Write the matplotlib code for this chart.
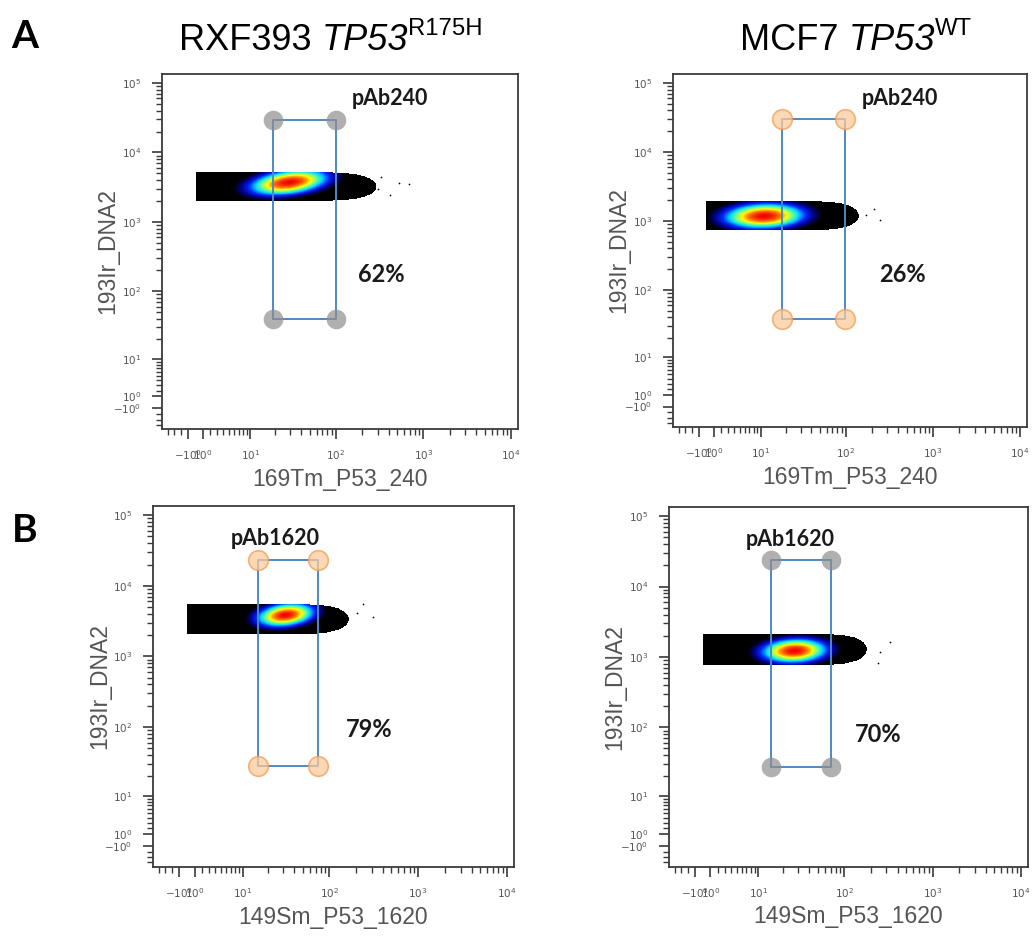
import numpy as np
import matplotlib
matplotlib.use("Agg")
import matplotlib.pyplot as plt
from matplotlib import font_manager
from matplotlib.colors import LinearSegmentedColormap
from matplotlib.ticker import FixedLocator, FixedFormatter

W, H, DPI = 1034, 936, 100

# ---------------- data ----------------
col_titles = ["RXF393", "MCF7"]
col_gene = ["TP53", "TP53"]
col_super = ["R175H", "WT"]
row_letters = ["A", "B"]
x_labels = ["169Tm_P53_240", "169Tm_P53_240", "149Sm_P53_1620", "149Sm_P53_1620"]
y_label = "193Ir_DNA2"
gate_names = ["pAb240", "pAb240", "pAb1620", "pAb1620"]
gate_pct = ["62%", "26%", "79%", "70%"]
gate_x_lo = [19, 18, 15.3, 14.5]
gate_x_hi = [100, 98, 75, 71]
gate_y_lo = [40, 38, 27.7, 27]
gate_y_hi = [29000, 30000, 23500, 23500]
gate_handle = ["gray", "orange", "orange", "gray"]

# cell population (density cloud)
pop_x_lo = [0.0, 0.0, 0.0, 0.0]
pop_x_hi = [290, 140, 165, 180]
pop_y_lo = [2000, 730, 2060, 760]
pop_y_hi = [5200, 1950, 5500, 2150]
peak_x = [29, 11, 32, 27]
peak_y = [3700, 1180, 3850, 1220]
spread_x = [0.72, 0.75, 0.52, 0.60]   # in asinh units
spread_y = [0.30, 0.30, 0.27, 0.28]
tilt = [0.35, 0.10, 0.25, 0.10]

outlier_x = [[325, 520, 675, 420, 300], [213, 245, 172], [237, 308, 203], [333, 242, 255]]
outlier_y = [[4450, 3650, 3540, 2460, 3000], [1490, 1030, 1220], [5500, 3600, 4100], [1640, 820, 1180]]

x_major = [-1, 1, 10, 100, 1000, 10000]
y_major = [-1, 1, 10, 100, 1000, 10000, 100000]

# ---------------- style / layout ----------------
COF = 5.0
avail = {f.name for f in font_manager.fontManager.ttflist}
boldfont = "Lato" if "Lato" in avail else "DejaVu Sans"
plt.rcParams["font.family"] = ["Liberation Sans", "DejaVu Sans"]

# axes boxes in pixels: left, right, top, bottom
boxes = [(162, 518, 74, 429), (673, 1027, 74, 427), (153, 514, 506, 867), (669, 1028, 507, 867)]
xlabel_y = [-0.110, -0.110, -0.107, -0.105]
ylabel_x = [-0.121, -0.121, -0.117, -0.120]
name_pos = [(0.64, 0.932), (0.641, 0.932), (0.338, 0.909), (0.337, 0.911)]
pct_pos = [(0.615, 0.434), (0.647, 0.431), (0.598, 0.382), (0.582, 0.367)]

cmap = LinearSegmentedColormap.from_list("flowjet", [
    (0.0, (0, 0, 0)), (0.12, (0, 0, 0)), (0.22, (0, 0, 0.55)), (0.34, (0, 0.15, 1.0)),
    (0.48, (0, 0.85, 1.0)), (0.61, (0.45, 1.0, 0.55)), (0.73, (1.0, 1.0, 0.0)),
    (0.86, (1.0, 0.45, 0.0)), (1.0, (0.95, 0.0, 0.0))])

def minor_ticks(lo, hi):
    t = []
    for k in range(0, 6):
        for m in range(2, 10):
            v = m * 10 ** k
            if v < hi:
                t.append(v)
            if -v > lo:
                t.append(-v)
    return t

def tick_text(v):
    if v == -1:
        return r"$-10^{0}$"
    return r"$10^{%d}$" % int(round(np.log10(v)))

fig = plt.figure(figsize=(W / DPI, H / DPI), dpi=DPI)

XLIM = (-5.0, 12000)
YLIM = (-5.0, 135000)

for i in range(4):
    l, r, t, b = boxes[i]
    ax = fig.add_axes([l / W, 1 - b / H, (r - l) / W, (b - t) / H])
    ax.set_xscale("asinh", linear_width=COF)
    ax.set_yscale("asinh", linear_width=COF)
    ax.set_xlim(*XLIM)
    ax.set_ylim(*YLIM)

    # density cloud
    u_lo, u_hi = np.arcsinh(pop_x_lo[i] / COF), np.arcsinh(pop_x_hi[i] / COF)
    v_lo, v_hi = np.arcsinh(pop_y_lo[i] / COF), np.arcsinh(pop_y_hi[i] / COF)
    ue = np.linspace(u_lo, u_hi, 320)
    ve = np.linspace(v_lo, v_hi, 90)
    uc = 0.5 * (ue[1:] + ue[:-1])
    vc = 0.5 * (ve[1:] + ve[:-1])
    U, V = np.meshgrid(uc, vc)
    u0, v0 = np.arcsinh(peak_x[i] / COF), np.arcsinh(peak_y[i] / COF)
    du = (U - u0) / spread_x[i]
    dv = (V - v0) / spread_y[i]
    rho = tilt[i]
    q = (du ** 2 - 2 * rho * du * dv + dv ** 2) / (1 - rho ** 2)
    d = np.exp(-0.5 * q)
    d = d / d.max()
    vmid, hv = 0.5 * (v_lo + v_hi), 0.5 * (v_hi - v_lo)
    frac = (U - u_lo) / (u_hi - u_lo)
    taper = np.sqrt(np.clip(1 - frac ** 10, 0, 1))
    inside = np.abs(V - vmid) <= hv * taper
    dm = np.ma.masked_where(~inside, d)
    ax.pcolormesh(COF * np.sinh(ue), COF * np.sinh(ve), dm, cmap=cmap, vmin=0, vmax=1,
                  shading="flat", zorder=1, rasterized=True)
    ax.scatter(outlier_x[i], outlier_y[i], s=1.5, c="black", lw=0, zorder=1)

    # gate
    gx = [gate_x_lo[i], gate_x_hi[i], gate_x_hi[i], gate_x_lo[i], gate_x_lo[i]]
    gy = [gate_y_lo[i], gate_y_lo[i], gate_y_hi[i], gate_y_hi[i], gate_y_lo[i]]
    ax.plot(gx, gy, color="#4f88c4", lw=1.4, zorder=3)
    if gate_handle[i] == "gray":
        ax.scatter(gx[:4], gy[:4], s=200, color="#8f8f8f", alpha=0.7, lw=0, zorder=4)
    else:
        ax.scatter(gx[:4], gy[:4], s=200, facecolor="#fbcb9c", edgecolor="#f29c55",
                   alpha=0.75, lw=1.2, zorder=4)

    ax.text(*name_pos[i], gate_names[i], transform=ax.transAxes, ha="center", va="center",
            fontsize=15.5, fontweight="bold", family=boldfont, color="#1a1a1a")
    ax.text(*pct_pos[i], gate_pct[i], transform=ax.transAxes, ha="center", va="center",
            fontsize=17, fontweight="bold", family=boldfont, color="#1a1a1a")

    # axes styling
    for sp in ax.spines.values():
        sp.set_color("#3a3a3a")
        sp.set_linewidth(1.3)
    ax.xaxis.set_major_locator(FixedLocator(x_major))
    ax.xaxis.set_major_formatter(FixedFormatter([tick_text(v) for v in x_major]))
    ax.yaxis.set_major_locator(FixedLocator(y_major))
    ax.yaxis.set_major_formatter(FixedFormatter([tick_text(v) for v in y_major]))
    ax.xaxis.set_minor_locator(FixedLocator(minor_ticks(*XLIM)))
    ax.yaxis.set_minor_locator(FixedLocator(minor_ticks(*YLIM)))
    ax.tick_params(which="major", direction="out", length=7, width=1.2, color="#3a3a3a",
                   labelsize=7.5, labelcolor="#555555")
    ax.tick_params(axis="x", which="major", pad=7)
    ax.tick_params(axis="y", which="major", pad=8)
    ax.tick_params(which="minor", direction="out", length=4, width=1.0, color="#3a3a3a")
    ax.set_xlabel(x_labels[i], fontsize=16.5, color="#555555")
    ax.set_ylabel(y_label, fontsize=16.5, color="#555555")
    ax.xaxis.set_label_coords(0.5, xlabel_y[i])
    ax.yaxis.set_label_coords(ylabel_x[i], 0.5)

# column titles built from pieces: name, italic gene, superscript
renderer = fig.canvas.get_renderer()
title_cx = [331, 856]
title_base = 50  # baseline, pixels from top
TS = 26
for j in range(2):
    pieces = [(col_titles[j] + " ", dict(fontsize=TS), 0),
              (col_gene[j], dict(fontsize=TS, style="italic"), 0),
              (col_super[j], dict(fontsize=TS * 0.66), 0.42 * TS * DPI / 72)]
    objs = []
    for txt, kw, rise in pieces:
        o = fig.text(0, 0, txt, ha="left", va="baseline", color="black",
                     transform=None, **kw)
        objs.append((o, rise))
    widths = [o.get_window_extent(renderer).width for o, _ in objs]
    x = title_cx[j] - sum(widths) / 2
    for (o, rise), w in zip(objs, widths):
        o.set_position((x, H - title_base + rise))
        x += w

letter_y = [37, 531]
for j in range(2):
    fig.text(25 / W, 1 - letter_y[j] / H, row_letters[j], ha="center", va="center",
             fontsize=28, fontweight="bold", family=boldfont, color="black")

fig.savefig("out.png", dpi=DPI, facecolor="white")
